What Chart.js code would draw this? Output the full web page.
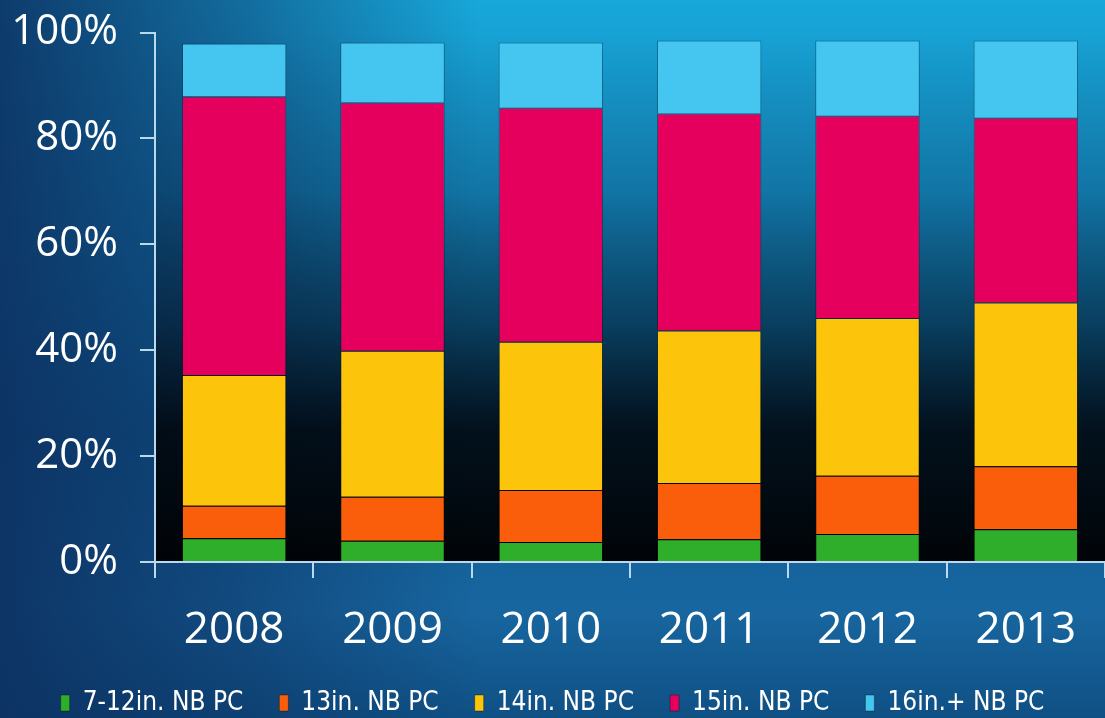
<!DOCTYPE html>
<html>
<head>
<meta charset="utf-8">
<script src="https://cdn.jsdelivr.net/npm/chart.js@4/dist/chart.umd.min.js"></script>
<style>
  html, body { margin: 0; padding: 0; background: #0b3f6a; }
  #wrap { width: 1105px; height: 718px; position: relative; }
</style>
</head>
<body>
<div id="wrap"><canvas id="c"></canvas></div>
<script>
// data (percent share of notebook PC shipments)
const years = ['2008', '2009', '2010', '2011', '2012', '2013'];
const nb7to12 = [4.5, 4.0, 3.8, 4.3, 5.3, 6.2];
const nb13 = [6.1, 8.3, 9.8, 10.6, 11.0, 11.9];
const nb14 = [24.7, 27.6, 28.0, 28.8, 29.8, 30.9];
const nb15 = [52.6, 46.9, 44.2, 41.0, 38.2, 34.9];
const nb16plus = [10.0, 11.3, 12.3, 13.8, 14.2, 14.6];
const yTicks = [0, 20, 40, 60, 80, 100];

// blue backdrop, plus the dark shade that sits behind the bars
const bgPlugin = {
  id: 'bg',
  beforeDraw(chart) {
    const { ctx, width, height, chartArea: a } = chart;
    ctx.save();
    let g = ctx.createLinearGradient(0, 0, 0, height);
    g.addColorStop(0, '#18a8da');
    g.addColorStop(0.3, '#1380b6');
    g.addColorStop(0.6, '#0f5c92');
    g.addColorStop(0.85, '#1866a0');
    g.addColorStop(1, '#0f5084');
    ctx.fillStyle = g;
    ctx.fillRect(0, 0, width, height);
    let h = ctx.createLinearGradient(0, 0, 480, 0);
    h.addColorStop(0, 'rgba(12,48,96,0.9)');
    h.addColorStop(0.5, 'rgba(12,48,96,0.5)');
    h.addColorStop(1, 'rgba(12,48,96,0)');
    ctx.fillStyle = h;
    ctx.fillRect(0, 0, 480, height);
    let s = ctx.createLinearGradient(0, a.top, 0, a.bottom);
    s.addColorStop(0, 'rgba(0,0,0,0)');
    s.addColorStop(0.3, 'rgba(0,6,12,0.12)');
    s.addColorStop(0.55, 'rgba(0,6,12,0.45)');
    s.addColorStop(0.75, 'rgba(0,4,8,0.85)');
    s.addColorStop(1, 'rgba(0,2,4,0.98)');
    ctx.fillStyle = s;
    ctx.fillRect(a.left, a.top, a.right - a.left, a.bottom - a.top);
    ctx.restore();
  }
};

const axisColor = '#b9d9ef';
const mk = (label, data, color) => ({
  label, data, backgroundColor: color,
  borderColor: 'rgba(0,0,0,0.35)', borderWidth: 1,
  barPercentage: 0.66, categoryPercentage: 1
});

new Chart(document.getElementById('c'), {
  type: 'bar',
  data: {
    labels: years,
    datasets: [
      mk('7-12in. NB PC', nb7to12, '#2eae2a'),
      mk('13in. NB PC', nb13, '#fa5e0a'),
      mk('14in. NB PC', nb14, '#fcc40a'),
      mk('15in. NB PC', nb15, '#e6005e'),
      mk('16in.+ NB PC', nb16plus, '#45c6f0')
    ]
  },
  plugins: [bgPlugin],
  options: {
    responsive: true,
    maintainAspectRatio: false,
    animation: false,
    layout: { padding: { top: 10, right: 0, left: 0, bottom: -8 } },
    plugins: {
      tooltip: { enabled: false },
      legend: {
        position: 'bottom',
        labels: {
          color: '#ffffff',
          boxWidth: 9,
          boxHeight: 16,
          padding: 36,
          font: { family: '"DejaVu Sans Condensed", "Liberation Sans Narrow", sans-serif', size: 26 }
        }
      }
    },
    scales: {
      x: {
        stacked: true,
        grid: { display: true, drawOnChartArea: false, color: axisColor, lineWidth: 2, tickLength: 16, offset: true },
        border: { color: axisColor, width: 2 },
        ticks: { color: '#ffffff', padding: 26, font: { family: 'Open Sans', size: 44 } },
        afterFit(s) { s.height = 92; }
      },
      y: {
        stacked: true,
        min: 0, max: 100,
        afterBuildTicks(s) { s.ticks = yTicks.map(v => ({ value: v })); },
        grid: { display: true, drawOnChartArea: false, color: axisColor, lineWidth: 2, tickLength: 15 },
        border: { color: axisColor, width: 2 },
        ticks: {
          color: '#ffffff', padding: 22,
          font: { family: 'Open Sans', size: 42, lineHeight: 0.5 },
          callback: v => v + '%'
        },
        afterFit(s) { s.width = 155; }
      }
    }
  }
});
</script>
</body>
</html>
